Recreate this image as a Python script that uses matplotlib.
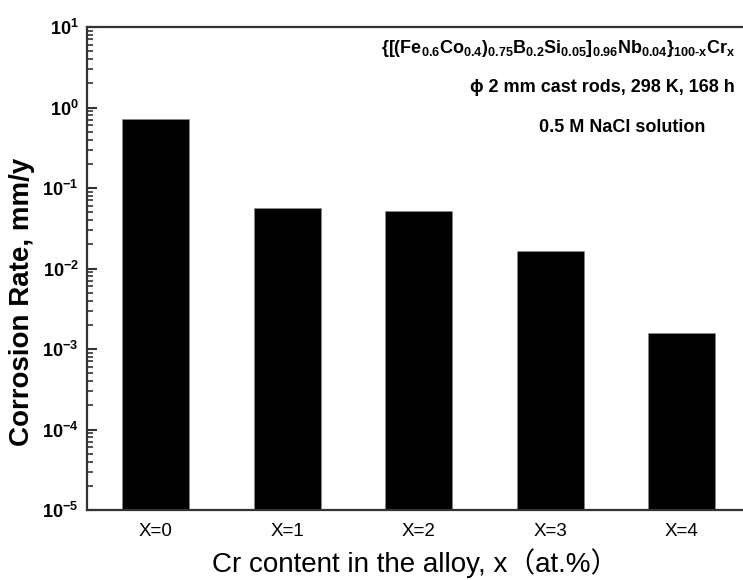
import numpy as np
import matplotlib
matplotlib.use("Agg")
import matplotlib.pyplot as plt

plt.rcParams['font.family'] = ['Liberation Sans', 'DejaVu Sans']
plt.rcParams['mathtext.fontset'] = 'custom'
plt.rcParams['mathtext.rm'] = 'Liberation Sans:bold'
plt.rcParams['mathtext.bf'] = 'Liberation Sans:bold'
plt.rcParams['mathtext.default'] = 'bf'

# data
labels = ["X=0", "X=1", "X=2", "X=3", "X=4"]
rates = [0.72, 0.057, 0.052, 0.0165, 0.0016]
y_decades = [-5, -4, -3, -2, -1, 0, 1]

fig = plt.figure(figsize=(7.43, 5.8), dpi=100)
ax = fig.add_axes([87 / 743, 1 - 510 / 580, (743 - 87) / 743, (510 - 27) / 580])

x = np.arange(len(labels))
ax.bar(x, rates, width=0.51, color='black', edgecolor='#888888', linewidth=0.4)

ax.set_yscale('log')
ax.set_ylim(1e-5, 1e1)
ax.set_xlim(-0.52, 4.464)

ax.set_yticks([10.0 ** d for d in y_decades])
ax.set_yticklabels([r'$10^{%d}$' % d for d in y_decades], fontsize=13)
ax.yaxis.set_minor_locator(matplotlib.ticker.LogLocator(base=10, subs=np.arange(2, 10)))
ax.yaxis.set_minor_formatter(matplotlib.ticker.NullFormatter())
ax.tick_params(axis='y', which='major', direction='in', length=7, width=1.5, color='#333333', pad=6)
ax.tick_params(axis='y', which='minor', direction='in', length=4, width=1.2, color='#333333')

ax.set_xticks(x)
ax.set_xticklabels(labels, fontsize=13.5)
ax.tick_params(axis='x', length=0, pad=9)

for side in ['left', 'top', 'bottom']:
    ax.spines[side].set_linewidth(1.6)
    ax.spines[side].set_color('#333333')
ax.spines['right'].set_visible(False)

ax.set_ylabel('Corrosion Rate, mm/y', fontsize=20, fontweight='bold')
ax.yaxis.set_label_coords(-0.08, 0.43)
ax.set_xlabel('Cr content in the alloy, x（at.%）', fontsize=20,
              family=['Liberation Sans', 'Noto Sans CJK SC'], labelpad=6)

ax.text(0.988, 0.955,
        r'$\{[(Fe_{0.6}Co_{0.4})_{0.75}B_{0.2}Si_{0.05}]_{0.96}Nb_{0.04}\}_{100\text{-}x}Cr_{x}$',
        transform=ax.transAxes, ha='right', va='center', fontsize=13)
ax.text(0.988, 0.874, 'ϕ 2 mm cast rods, 298 K, 168 h', transform=ax.transAxes,
        ha='right', va='center', fontsize=13, fontweight='bold')
ax.text(0.942, 0.791, '0.5 M NaCl solution', transform=ax.transAxes,
        ha='right', va='center', fontsize=13, fontweight='bold')

fig.savefig('out.png', dpi=100)
